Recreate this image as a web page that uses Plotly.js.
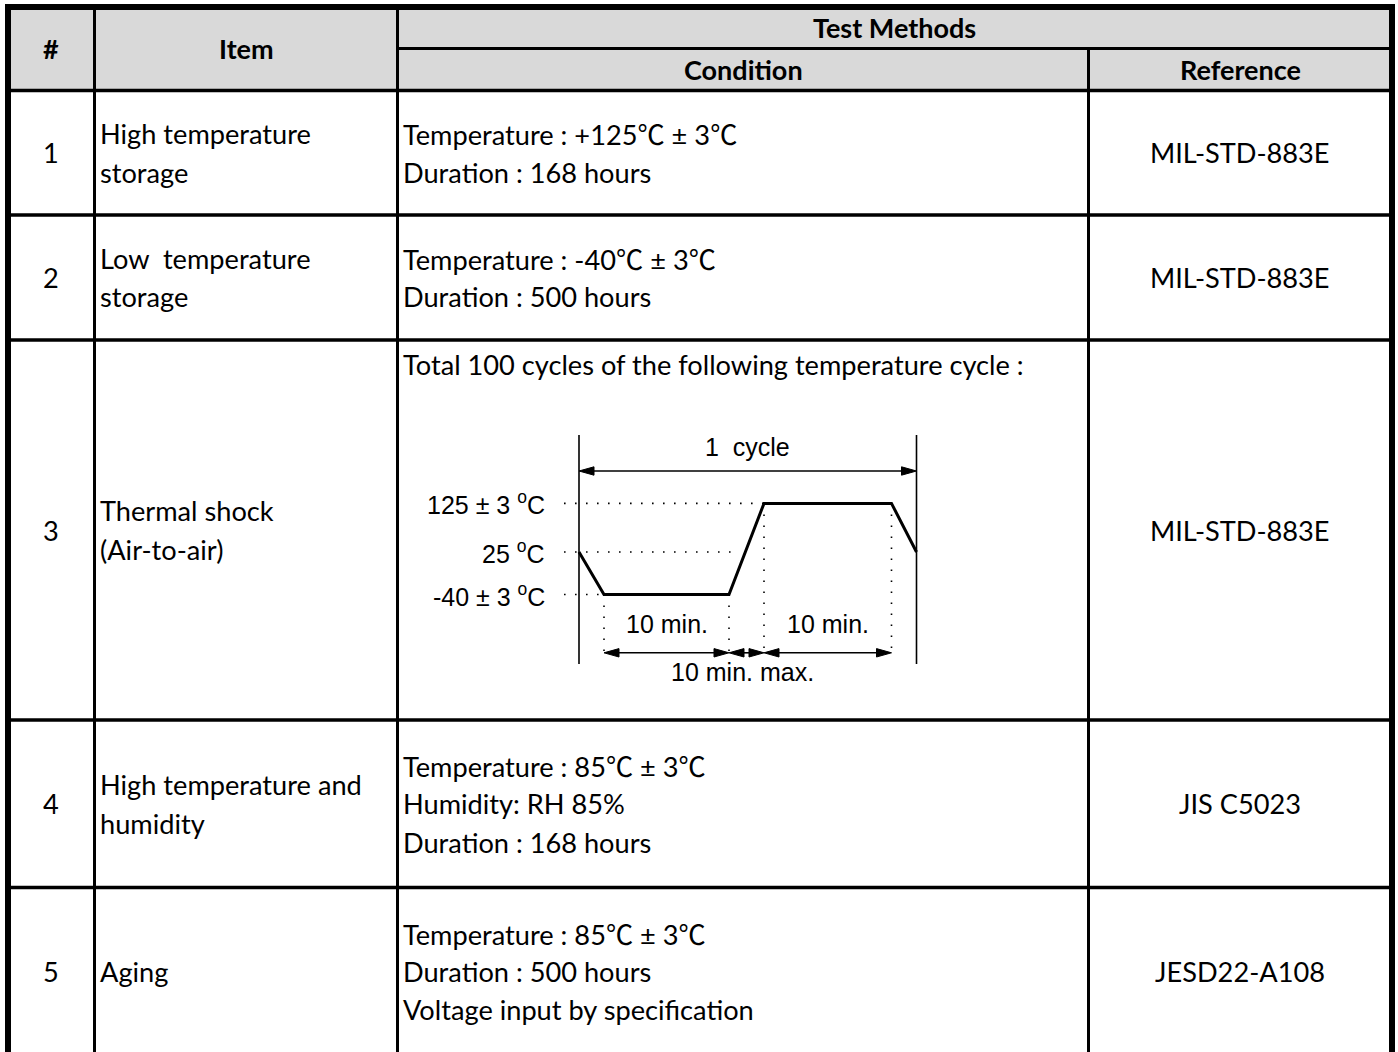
<!DOCTYPE html>
<html><head><meta charset="utf-8">
<script src="https://cdn.plot.ly/plotly-3.0.1.min.js"></script>
<style>html,body{margin:0;padding:0;background:#fff;} #chart{width:1398px;height:1052px;}</style>
</head><body><div id="chart"></div>
<script>
// ---------------- data ----------------
const headerTop = "Test Methods";
const headerCols = ["#", "Item", "Condition", "Reference"];
const rowIds = ["1", "2", "3", "4", "5"];
const items = [
  ["High temperature", "storage"],
  ["Low  temperature", "storage"],
  ["Thermal shock", "(Air-to-air)"],
  ["High temperature and", "humidity"],
  ["Aging"]
];
const conditions = [
  ["Temperature : +125℃ ± 3℃", "Duration : 168 hours"],
  ["Temperature : -40℃ ± 3℃", "Duration : 500 hours"],
  ["Total 100 cycles of the following temperature cycle :"],
  ["Temperature : 85℃ ± 3℃", "Humidity: RH 85%", "Duration : 168 hours"],
  ["Temperature : 85℃ ± 3℃", "Duration : 500 hours", "Voltage input by specification"]
];
const references = ["MIL-STD-883E", "MIL-STD-883E", "MIL-STD-883E", "JIS C5023", "JESD22-A108"];

// thermal cycle schematic (time in schematic units, temperature levels)
const cycleTime = [0, 2, 12, 14.8, 25, 27];
const cycleTemp = ["25", "-40", "-40", "125", "125", "25"];
const tempLevels = ["125", "25", "-40"];
const tempLabels = ["125 ± 3 <sup>o</sup>C", "25 <sup>o</sup>C", "-40 ± 3 <sup>o</sup>C"];
const cycleLabel = "1  cycle";
const spanFrom = [2, 12, 14.8];
const spanTo = [12, 14.8, 25];
const spanLabels = ["10 min.", "10 min. max.", "10 min."];

// ---------------- layout geometry / style ----------------
const W = 1398, H = 1052;
const colEdges = [8, 94.5, 397.5, 1088.5, 1392];
const headEdges = [7, 48.5, 90.5];
const rowEdges = [90.5, 215, 340, 720, 887.5, 1055];
const lineGap = 38.7;
const topAlignedRow = 2, topAlignedY = 364;
const bodyFont = {family: "Lato, 'Noto Sans CJK JP', sans-serif", size: 27.2, color: "#000"};
const boldFont = {family: "Lato, 'Noto Sans CJK JP', sans-serif", size: 27, color: "#000", weight: "bold"};
const diaFont = {family: "'Liberation Sans', Arial, sans-serif", size: 25, color: "#000"};
const levelPos = {"125": 9.11, "25": 4.25, "-40": 0};   // schematic vertical placement
const px2x = 12.5, px2y = 10;                          // pixels per schematic unit

const shapes = [];
const annotations = [];
function cjk(t) {
  return t.replace(/℃/g, '<span style="font-family:\'Noto Sans CJK JP\'">℃</span>');
}
function hline(y, x0, x1, w, ref) {
  shapes.push({type: "line", xref: ref ? "x2" : "x", yref: ref ? "y2" : "y", x0: x0, x1: x1, y0: y, y1: y, line: {color: "#000", width: w}});
}
function vline(x, y0, y1, w, ref) {
  shapes.push({type: "line", xref: ref ? "x2" : "x", yref: ref ? "y2" : "y", x0: x, x1: x, y0: y0, y1: y1, line: {color: "#000", width: w}});
}
function dotted(x0, y0, x1, y1) {
  shapes.push({type: "line", xref: "x2", yref: "y2", x0: x0, x1: x1, y0: y0, y1: y1, line: {color: "#000", width: 1.6, dash: "1.6px,9.4px"}});
}
function txt(x, y, t, font, xanchor, ref) {
  annotations.push({xref: ref ? "x2" : "x", yref: ref ? "y2" : "y", x: x, y: y, text: t, showarrow: false,
    font: font, xanchor: xanchor || "center", yanchor: "middle", borderpad: 0});
}
function arrowHead(xTip, y, dir) {
  const L = 15 / px2x, h = 4.2 / px2y;
  const xb = xTip - dir * L;
  shapes.push({type: "path", xref: "x2", yref: "y2",
    path: `M${xTip},${y} L${xb},${y + h} L${xb},${y - h} Z`, fillcolor: "#000", line: {color: "#000", width: 1}});
}
function dblArrow(x0, x1, y) {
  hline(y, x0 + 0.3, x1 - 0.3, 1.6, true);
  arrowHead(x0, y, -1);
  arrowHead(x1, y, 1);
}

// header background
shapes.push({type: "rect", xref: "x", yref: "y", x0: colEdges[0], x1: colEdges[4], y0: headEdges[0], y1: headEdges[2],
  fillcolor: "#d9d9d9", line: {width: 0}, layer: "below"});

// grid lines
hline(headEdges[0], 5, 1395, 6);
vline(colEdges[0], 4, H + 5, 6);
vline(colEdges[4], 4, H + 5, 6);
vline(colEdges[1], headEdges[0], H + 5, 3);
vline(colEdges[2], headEdges[0], H + 5, 3);
vline(colEdges[3], headEdges[1], H + 5, 3);
hline(headEdges[1], colEdges[2], colEdges[4], 3);
rowEdges.slice(0, -1).forEach(y => hline(y, colEdges[0], colEdges[4], 3.4));

// header texts
const hMid = (headEdges[0] + headEdges[2]) / 2;
txt((colEdges[0] + colEdges[1]) / 2, hMid, headerCols[0], boldFont);
txt((colEdges[1] + colEdges[2]) / 2, hMid, headerCols[1], boldFont);
txt((colEdges[2] + colEdges[4]) / 2, (headEdges[0] + headEdges[1]) / 2, headerTop, boldFont);
txt((colEdges[2] + colEdges[3]) / 2, (headEdges[1] + headEdges[2]) / 2, headerCols[2], boldFont);
txt((colEdges[3] + colEdges[4]) / 2, (headEdges[1] + headEdges[2]) / 2, headerCols[3], boldFont);

// body rows
rowIds.forEach((id, r) => {
  const mid = (rowEdges[r] + rowEdges[r + 1]) / 2;
  txt((colEdges[0] + colEdges[1]) / 2, mid, id, bodyFont);
  items[r].forEach((line, i) => txt(colEdges[1] + 4, mid + (i - (items[r].length - 1) / 2) * lineGap, line, bodyFont, "left"));
  conditions[r].forEach((line, i) => {
    const y = (r === topAlignedRow) ? topAlignedY + i * lineGap : mid + (i - (conditions[r].length - 1) / 2) * lineGap;
    txt(colEdges[2] + 4, y, cjk(line), bodyFont, "left");
  });
  txt((colEdges[3] + colEdges[4]) / 2, mid, references[r], bodyFont);
});

// ---------------- thermal cycle schematic ----------------
const tStart = cycleTime[0], tEnd = cycleTime[cycleTime.length - 1];
const yTop = 15.95, yBot = -6.95, yCycle = 12.35, ySpan = -5.83;
vline(tStart, yBot, yTop, 1.6, true);
vline(tEnd, yBot, yTop, 1.6, true);
dblArrow(tStart, tEnd, yCycle);
txt((tStart + tEnd) / 2, 14.75, cycleLabel, diaFont, "center", true);

// level guides and labels
const labelX = -2.64, guideX0 = -1.2;
tempLevels.forEach((lv, i) => {
  const y = levelPos[lv];
  let xEnd = cycleTime[cycleTemp.indexOf(lv)];
  if (lv === "25") {
    const j = cycleTemp.lastIndexOf("-40"), b = cycleTemp.indexOf("125");
    const t0 = cycleTime[j], t1 = cycleTime[b];
    xEnd = t0 + (t1 - t0) * (y - levelPos["-40"]) / (levelPos["125"] - levelPos["-40"]) - 0.5;
  }
  dotted(guideX0, y, xEnd, y);
  txt(labelX, y, tempLabels[i], diaFont, "right", true);
});

// vertical guides at hold boundaries
for (let k = 1; k < cycleTime.length - 1; k++) {
  dotted(cycleTime[k], levelPos[cycleTemp[k]], cycleTime[k], ySpan - 0.2);
}

// span arrows and labels
spanFrom.forEach((a, i) => {
  dblArrow(a, spanTo[i], ySpan);
  const above = spanLabels[i].indexOf("max") < 0;
  txt((a + spanTo[i]) / 2 + (above ? 0 : -0.3), above ? -2.95 : -7.75, spanLabels[i], diaFont, "center", true);
});

const traces = [{
  type: "scatter", mode: "lines", xaxis: "x2", yaxis: "y2",
  x: cycleTime, y: cycleTemp.map(t => levelPos[t]),
  line: {color: "#000", width: 3}, hoverinfo: "skip", cliponaxis: false
}];

// schematic axis placement (pixels -> domain)
const dx0 = 420, dx1 = 940, dy0 = 420, dy1 = 700, ox = 579, oy = 594.5;
const layout = {
  width: W, height: H, margin: {l: 0, r: 0, t: 0, b: 0, pad: 0},
  paper_bgcolor: "#fff", plot_bgcolor: "rgba(0,0,0,0)", showlegend: false,
  xaxis: {range: [0, W], domain: [0, 1], visible: false, fixedrange: true},
  yaxis: {range: [H, 0], domain: [0, 1], visible: false, fixedrange: true},
  xaxis2: {range: [(dx0 - ox) / px2x, (dx1 - ox) / px2x], domain: [dx0 / W, dx1 / W], anchor: "y2", visible: false, fixedrange: true},
  yaxis2: {range: [(oy - dy1) / px2y, (oy - dy0) / px2y], domain: [1 - dy1 / H, 1 - dy0 / H], anchor: "x2", visible: false, fixedrange: true},
  shapes: shapes, annotations: annotations
};
Plotly.newPlot("chart", traces, layout, {staticPlot: true, displayModeBar: false});
</script>
</body></html>
